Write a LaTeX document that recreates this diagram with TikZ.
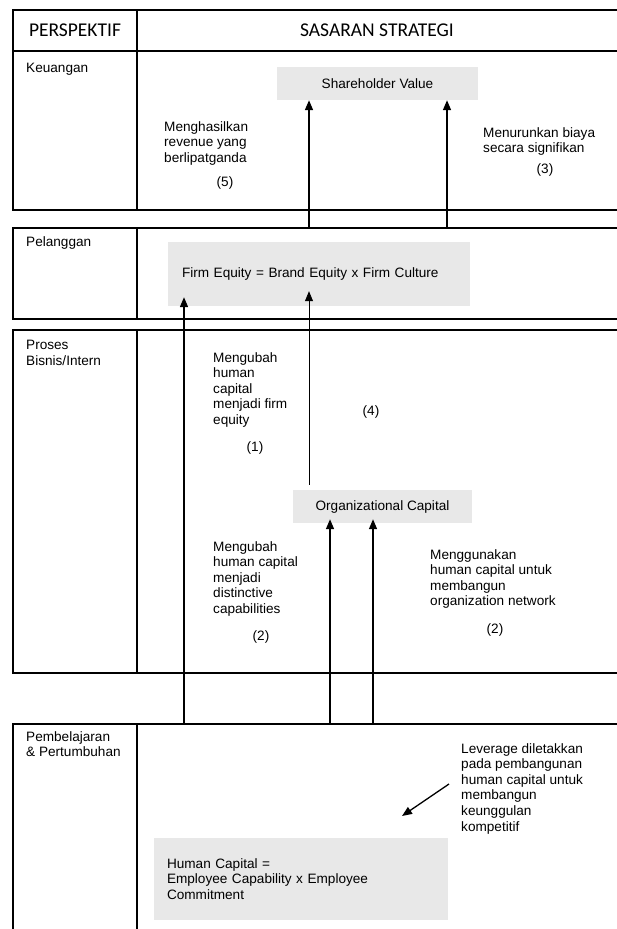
\documentclass[tikz,border=0pt]{standalone}
\usepackage{fontspec}
\setmainfont{Liberation Sans}
\newfontfamily\headfont{Carlito}
\usepackage{tikz}
\usetikzlibrary{arrows.meta}
\tikzset{frame/.style = {line width = 1.3pt}}
\tikzset{capbox/.style = {fill = boxgray, inner sep = 0, font = \fontsize{13.6}{15.6}\selectfont}}
\tikzset{txt/.style = {anchor = north west, inner sep = 0, align = left, font = \fontsize{13.6}{15.6}\selectfont}}
\tikzset{head/.style = {inner sep = 0, font = \headfont\fontsize{19.5}{21}\selectfont}}
\tikzset{arr/.style = {line width = 1.6pt, -{Triangle[length = 10pt, width = 8pt]}}}
\definecolor{boxgray}{rgb}{0.91, 0.91, 0.91}

\begin{document}
\begin{tikzpicture}[x = 1pt, y = -1pt]
  \useasboundingbox (0, 0) rectangle (617, 929);

  % table
  \foreach \t/\b in {10/210, 228/319, 330/673} {
    \draw [frame] (640, \t) -- (13, \t) -- (13, \b) -- (640, \b);
    \draw [frame] (137, \t) -- (137, \b);
  }
  \draw [frame] (640, 724) -- (13, 724) -- (13, 945);
  \draw [frame] (137, 724) -- (137, 945);
  \draw [frame] (13, 51) -- (640, 51);

  \node [head] (persp) at (75, 30) {PERSPEKTIF};
  \node [head] (sasaran) at (377, 30) {SASARAN STRATEGI};

  \node [txt] (keu) at (26, 63) {Keuangan};
  \node [txt] (pel) at (26, 236) {Pelanggan};
  \node [txt] (pros) at (26, 340) {Proses\\Bisnis/Intern};
  \node [txt] (bel) at (26, 731) {Pembelajaran\\\& Pertumbuhan};

  % boxes
  \node [capbox, minimum width = 201, minimum height = 33] (sv) at (377.5, 83.5) {Shareholder Value};
  \node [capbox, minimum width = 302, minimum height = 64, text width = 274, align = left] (fe) at (319, 274)
    {Firm Equity = Brand Equity x Firm Culture};
  \node [capbox, minimum width = 179, minimum height = 33] (oc) at (382.5, 506.5) {Organizational Capital};
  \node [capbox, minimum width = 294, minimum height = 82, text width = 268, align = left] (hc) at (301, 879)
    {Human Capital =\\Employee Capability x Employee\\Commitment};

  % keuangan
  \node [txt] (rev) at (164, 121) {Menghasilkan\\revenue yang\\berlipatganda};
  \node [txt, anchor = center] (n5) at (225, 183) {(5)};
  \node [txt] (cost) at (483, 127) {Menurunkan biaya\\secara signifikan};
  \node [txt, anchor = center] (n3) at (545, 170) {(3)};
  \coordinate (k1) at (309, 228);
  \coordinate (k2) at (447, 228);
  \draw [arr] (k1) -- (k1 |- sv.south);
  \draw [arr] (k2) -- (k2 |- sv.south);

  % proses
  \node [txt] (feq) at (213, 352) {Mengubah\\human\\capital\\menjadi firm\\equity};
  \node [txt, anchor = center] (n1) at (255, 448) {(1)};
  \node [txt, anchor = center] (n4) at (371, 412) {(4)};
  \node [txt] (dist) at (213, 541) {Mengubah\\human capital\\menjadi\\distinctive\\capabilities};
  \node [txt, anchor = center] (n2a) at (261, 637) {(2)};
  \node [txt] (net) at (430, 549) {Menggunakan\\human capital untuk\\membangun\\organization network};
  \node [txt, anchor = center] (n2b) at (495, 630) {(2)};
  \draw [arr, line width = 0.8pt, shorten < = 5pt, shorten > = -15pt] (oc.north -| k1) -- (k1 |- fe.south);

  % pembelajaran
  \coordinate (p1) at (184, 724);
  \coordinate (p2) at (330, 724);
  \coordinate (p3) at (373, 724);
  \draw [arr, shorten > = -9pt] (p1) -- (p1 |- fe.south);
  \draw [arr, shorten > = -4pt] (p2) -- (p2 |- oc.south);
  \draw [arr, shorten > = -4pt] (p3) -- (p3 |- oc.south);

  \node [txt] (lev) at (461, 743)
    {Leverage diletakkan\\pada pembangunan\\human capital untuk\\membangun\\keunggulan\\kompetitif};
  \coordinate (lv) at (449, 784);
  \coordinate (lvtip) at (402, 816);
  \draw [arr, line width = 1.3pt] (lv) -- (lvtip);
\end{tikzpicture}
\end{document}
